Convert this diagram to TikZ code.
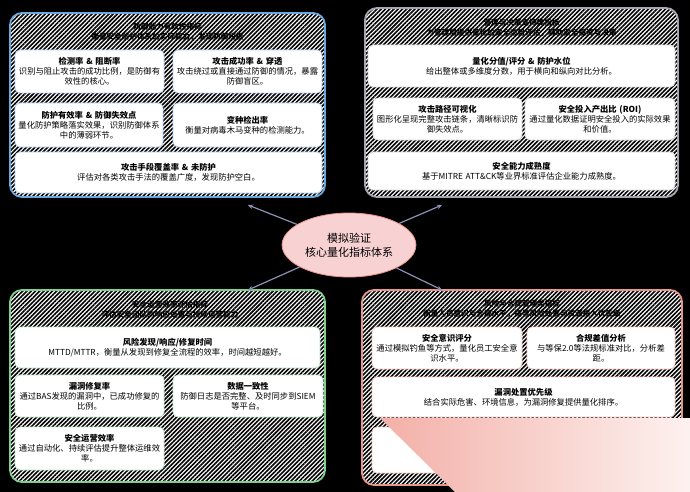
\documentclass[tikz,border=0pt]{standalone}
\usepackage{fontspec}
\setmainfont{Noto Sans CJK SC}
\usetikzlibrary{patterns.meta,arrows.meta,shapes.geometric}
\definecolor{bluebd}{HTML}{6AA8E0}
\definecolor{graybd}{HTML}{A4A6B0}
\definecolor{greenbd}{HTML}{7FCF8F}
\definecolor{redbd}{HTML}{E8958C}
\definecolor{bluecd}{HTML}{B4D0F2}
\definecolor{graycd}{HTML}{D6D6DA}
\definecolor{greencd}{HTML}{BDE8C6}
\definecolor{redcd}{HTML}{F2C4C0}
\definecolor{arrowc}{HTML}{8C90B4}
\definecolor{ellfill}{HTML}{F8D2D2}
\definecolor{pinkA}{HTML}{F3B0A8}
\definecolor{pinkB}{HTML}{FDF1EF}
\begin{document}
\begin{tikzpicture}[x=1pt,y=-1pt,
  panel/.style={rectangle, rounded corners=12pt, line width=1.8pt,
    preaction={fill=white},
    pattern={Lines[angle=45,distance=3pt,line width=1.6pt]}, pattern color=black,
    inner sep=0pt},
  card/.style={rectangle, rounded corners=5pt, fill=white, line width=0.8pt,
    inner sep=1pt, align=center, font=\fontsize{8.3}{10}\selectfont},
  hdr/.style={align=center, font=\fontsize{7.6}{10}\selectfont\bfseries, text=black},
  arr/.style={draw=arrowc, line width=1.2pt, -{Stealth[length=5pt,width=4.5pt]}}
]
\fill[black] (0,0) rectangle (690,492);
\useasboundingbox (0,0) rectangle (690,492);

% panels
\node[panel, draw=bluebd, minimum width=315pt, minimum height=184pt] (tl) at (167.5,105) {};
\node[panel, draw=graybd, minimum width=313pt, minimum height=189pt] (tr) at (521.5,102.5) {};
\node[panel, draw=greenbd, minimum width=315pt, minimum height=192pt] (bl) at (167.5,386) {};
\node[panel, draw=redbd, minimum width=320pt, minimum height=195pt] (br) at (522,387.5) {};

% headers
\node[hdr] (tlh) at (167.5,32) {防御能力有效性指标\\衡量安全防护体系的实际能力，发现防御短板};
\node[hdr] (trh) at (521.5,27.5) {管理与决策支持类指标\\为管理层提供量化的安全态势评估，辅助安全投资与决策};
\node[hdr] (blh) at (170,310) {安全运营效率评估指标\\评估安全团队的响应处置与持续运营能力};
\node[hdr] (brh) at (522,308.5) {风险与合规管理类指标\\衡量人员意识与合规水平，指导风险处置与资源投入优先级};

% top-left cards
\node[card, draw=bluecd, minimum width=149pt, minimum height=43pt, text width=145pt] (tl1) at (89.5,71.5)
  {{\bfseries 检测率 \& 阻断率}\\识别与阻止攻击的成功比例，是防御有\\效性的核心。};
\node[card, draw=bluecd, minimum width=149pt, minimum height=43pt, text width=145pt] (tl2) at (247.5,71.5)
  {{\bfseries 攻击成功率 \& 穿透}\\攻击绕过或直接通过防御的情况，暴露\\防御盲区。};
\node[card, draw=bluecd, minimum width=148pt, minimum height=44pt, text width=145pt] (tl3) at (89,125)
  {{\bfseries 防护有效率 \& 防御失效点}\\量化防护策略落实效果，识别防御体系\\中的薄弱环节。};
\node[card, draw=bluecd, minimum width=149pt, minimum height=44pt, text width=145pt] (tl4) at (247.5,125)
  {{\bfseries 变种检出率}\\衡量对病毒木马变种的检测能力。};
\node[card, draw=bluecd, minimum width=307pt, minimum height=41pt, text width=300pt] (tl5) at (168.5,172.5)
  {{\bfseries 攻击手段覆盖率 \& 未防护}\\评估对各类攻击手法的覆盖广度，发现防护空白。};

% top-right cards
\node[card, draw=graycd, minimum width=307pt, minimum height=42pt, text width=300pt] (tr1) at (521.5,66)
  {{\bfseries 量化分值/评分 \& 防护水位}\\给出整体或多维度分数，用于横向和纵向对比分析。};
\node[card, draw=graycd, minimum width=149pt, minimum height=42pt, text width=145pt] (tr2) at (447.5,119)
  {{\bfseries 攻击路径可视化}\\图形化呈现完整攻击链条，清晰标识防\\御失效点。};
\node[card, draw=graycd, minimum width=150pt, minimum height=42pt, text width=146pt] (tr3) at (600,119)
  {{\bfseries 安全投入产出比 (ROI)}\\通过量化数据证明安全投入的实际效果\\和价值。};
\node[card, draw=graycd, minimum width=307pt, minimum height=38pt, text width=300pt] (tr4) at (521.5,171)
  {{\bfseries 安全能力成熟度}\\基于MITRE ATT\&CK等业界标准评估企业能力成熟度。};

% bottom-left cards
\node[card, draw=greencd, minimum width=305pt, minimum height=41pt, text width=300pt] (bl1) at (167.5,347.5)
  {{\bfseries 风险发现/响应/修复时间}\\MTTD/MTTR，衡量从发现到修复全流程的效率，时间越短越好。};
\node[card, draw=greencd, minimum width=149pt, minimum height=42pt, text width=145pt] (bl2) at (89.5,396)
  {{\bfseries 漏洞修复率}\\通过BAS发现的漏洞中，已成功修复的\\比例。};
\node[card, draw=greencd, minimum width=150pt, minimum height=42pt, text width=146pt] (bl3) at (248,396)
  {{\bfseries 数据一致性}\\防御日志是否完整、及时同步到SIEM\\等平台。};
\node[card, draw=greencd, minimum width=149pt, minimum height=43pt, text width=145pt] (bl4) at (89.5,448.5)
  {{\bfseries 安全运营效率}\\通过自动化、持续评估提升整体运维效\\率。};

% bottom-right cards
\node[card, draw=redcd, minimum width=150pt, minimum height=42pt, text width=146pt] (br1) at (447,348)
  {{\bfseries 安全意识评分}\\通过模拟钓鱼等方式，量化员工安全意\\识水平。};
\node[card, draw=redcd, minimum width=148pt, minimum height=42pt, text width=144pt] (br2) at (601,348)
  {{\bfseries 合规差值分析}\\与等保2.0等法规标准对比，分析差\\距。};
\node[card, draw=redcd, minimum width=303pt, minimum height=40pt, text width=298pt] (br3) at (523.5,397)
  {{\bfseries 漏洞处置优先级}\\结合实际危害、环境信息，为漏洞修复提供量化排序。};
\node[card, draw=redcd, minimum width=303pt, minimum height=46pt] (br4) at (523.5,450) {};

% pink overlay artifact
\shade[left color=pinkA, right color=pinkB] (380,418) -- (690,418) -- (690,492) -- (455,492) -- cycle;

% centre
\node[ellipse, minimum width=108pt, minimum height=64pt, fill=ellfill, draw=redbd,
  line width=0.8pt, align=center, font=\fontsize{11}{14}\selectfont] (c) at (349,245)
  {模拟验证\\核心量化指标体系};

% connectors
\coordinate (tlTip) at (248,205);
\coordinate (trTip) at (442,205);
\coordinate (blTip) at (248,290);
\coordinate (brTip) at (442,290);
\draw[arr] (c) -- (tlTip);
\draw[arr] (c) -- (trTip);
\draw[arr] (c) -- (blTip);
\draw[arr] (c) -- (brTip);
\end{tikzpicture}
\end{document}
